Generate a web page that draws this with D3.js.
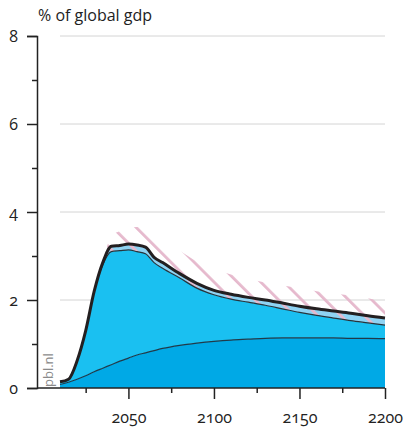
<!DOCTYPE html>
<html>
<head>
<meta charset="utf-8">
<script src="https://cdn.jsdelivr.net/npm/d3@7"></script>
<style>
  html, body { margin: 0; padding: 0; background: #fff; }
  svg { display: block; font-family: "Open Sans", "Noto Sans", sans-serif; }
  .num { font-variant-numeric: oldstyle-nums; font-feature-settings: "onum" 1; }
</style>
</head>
<body>
<div id="chart"></div>
<script>
// years shared by all series
var years = [2010, 2015, 2020, 2025, 2030, 2035, 2040, 2045, 2050, 2055, 2060, 2065, 2070,
             2080, 2090, 2100, 2110, 2120, 2130, 2140, 2150, 2160, 2170, 2180, 2190, 2200]

// bottom (dark blue) layer, cumulative top
var baseLayer = [0.08, 0.13, 0.2, 0.28, 0.37, 0.45, 0.53, 0.61, 0.68, 0.75, 0.8, 0.85, 0.9,
                 0.97, 1.02, 1.06, 1.09, 1.11, 1.13, 1.14, 1.14, 1.14, 1.14, 1.13, 1.13, 1.12]

// middle (light blue) layer, cumulative top = thin line
var midLayer = [0.14, 0.2, 0.62, 1.3, 2.2, 2.8, 3.1, 3.12, 3.14, 3.1, 3.05, 2.85, 2.72,
                2.5, 2.27, 2.12, 2.02, 1.95, 1.88, 1.8, 1.72, 1.65, 1.59, 1.53, 1.48, 1.43]

// total (thick black line)
var totalLayer = [0.14, 0.2, 0.62, 1.3, 2.2, 2.85, 3.22, 3.24, 3.27, 3.25, 3.2, 2.97, 2.85,
                  2.6, 2.38, 2.22, 2.13, 2.06, 2.0, 1.93, 1.86, 1.8, 1.75, 1.7, 1.64, 1.59]

// upper edge of hatched range (null = no hatch)
var hatchTop = [null, null, null, null, null, 2.85, 3.45, 3.57, 3.64, 3.66, 3.62, 3.5, 3.38,
                3.12, 2.88, 2.7, 2.58, 2.48, 2.4, 2.33, 2.27, 2.2, 2.15, 2.1, 2.04, 1.95]

var yMajor = [0, 2, 4, 6, 8]
var yMinor = [1, 3, 5, 7]
var xMajor = [2050, 2100, 2150, 2200]
var xMinor = [2025, 2075, 2125, 2175]

var width = 404, height = 432

var svg = d3.select("#chart").append("svg")
  .attr("width", width)
  .attr("height", height)

var x = d3.scaleLinear().domain([2010, 2200]).range([60, 385])
var y = d3.scaleLinear().domain([0, 8]).range([388, 36])

var rows = years.map(function(yr, i) {
  return {year: yr, base: baseLayer[i], mid: midLayer[i], total: totalLayer[i], hatch: hatchTop[i]}
})

// hatch pattern
var defs = svg.append("defs")
defs.append("pattern")
  .attr("id", "hatch")
  .attr("patternUnits", "userSpaceOnUse")
  .attr("width", 16.5)
  .attr("height", 16.5)
  .attr("patternTransform", "rotate(-45)")
  .append("rect")
  .attr("x", 0).attr("y", 0)
  .attr("width", 2.8).attr("height", 16.5)
  .attr("fill", "#e6b9cd")

// gridlines
svg.append("g").selectAll("line")
  .data(yMajor.filter(function(d) { return d > 0 }))
  .enter().append("line")
  .attr("x1", x(2010)).attr("x2", x(2200))
  .attr("y1", function(d) { return y(d) }).attr("y2", function(d) { return y(d) })
  .attr("stroke", "#d4d4d4").attr("stroke-width", 1)

var curve = d3.curveMonotoneX

// stacked areas
var areaBase = d3.area().curve(curve)
  .x(function(d) { return x(d.year) }).y0(y(0)).y1(function(d) { return y(d.base) })
var areaMid = d3.area().curve(curve)
  .x(function(d) { return x(d.year) }).y0(function(d) { return y(d.base) }).y1(function(d) { return y(d.mid) })
var areaTop = d3.area().curve(curve)
  .x(function(d) { return x(d.year) }).y0(function(d) { return y(d.mid) }).y1(function(d) { return y(d.total) })
var areaHatch = d3.area().curve(curve)
  .defined(function(d) { return d.hatch != null })
  .x(function(d) { return x(d.year) }).y0(function(d) { return y(d.mid) }).y1(function(d) { return y(d.hatch) })

svg.append("path").datum(rows).attr("d", areaBase).attr("fill", "#00a9e6")
svg.append("path").datum(rows).attr("d", areaMid).attr("fill", "#1ac0f1")
svg.append("path").datum(rows).attr("d", areaTop).attr("fill", "#8fd3f3")
svg.append("path").datum(rows).attr("d", areaHatch).attr("fill", "url(#hatch)")

function lineOf(key) {
  return d3.line().curve(curve)
    .x(function(d) { return x(d.year) })
    .y(function(d) { return y(d[key]) })
}

svg.append("path").datum(rows).attr("d", lineOf("base"))
  .attr("fill", "none").attr("stroke", "#1f3a4a").attr("stroke-width", 1.2)
svg.append("path").datum(rows).attr("d", lineOf("mid"))
  .attr("fill", "none").attr("stroke", "#27343c").attr("stroke-width", 1.2)
svg.append("path").datum(rows).attr("d", lineOf("total"))
  .attr("fill", "none").attr("stroke", "#231f20").attr("stroke-width", 3)
  .attr("stroke-linejoin", "round")

// y axis
var yAxis = svg.append("g").attr("transform", "translate(37,0)")
  .call(d3.axisLeft(y).tickValues(yMajor).tickSize(10).tickPadding(9).tickFormat(d3.format("d")))
svg.append("g").attr("transform", "translate(37,0)")
  .call(d3.axisLeft(y).tickValues(yMinor).tickSize(5).tickFormat(""))
  .select(".domain").remove()

// x axis
var xAxis = svg.append("g").attr("transform", "translate(0,388)")
  .call(d3.axisBottom(x).tickValues(xMajor).tickSize(11).tickPadding(13).tickFormat(d3.format("d")))
xAxis.select(".domain").remove()
svg.append("g").attr("transform", "translate(0,388)")
  .call(d3.axisBottom(x).tickValues(xMinor).tickSize(5).tickFormat(""))
  .select(".domain").remove()
svg.append("line")
  .attr("x1", 37).attr("x2", x(2200)).attr("y1", y(0)).attr("y2", y(0))
  .attr("stroke", "#222").attr("stroke-width", 1.5)

svg.selectAll(".tick line").attr("stroke", "#222").attr("stroke-width", 1.5)
svg.selectAll(".domain").attr("stroke", "#222").attr("stroke-width", 1.5)
svg.selectAll(".tick text")
  .attr("class", "num")
  .attr("font-family", "'Open Sans', 'Noto Sans', sans-serif")
  .attr("font-size", 16).attr("fill", "#222")

// titles
svg.append("text")
  .attr("x", 38).attr("y", 21)
  .attr("font-size", 16).attr("fill", "#222")
  .text("% of global gdp")

svg.append("text")
  .attr("transform", "translate(53,387) rotate(-90)")
  .attr("font-size", 13).attr("fill", "#8a8a8a")
  .text("pbl.nl")
</script>
</body>
</html>
